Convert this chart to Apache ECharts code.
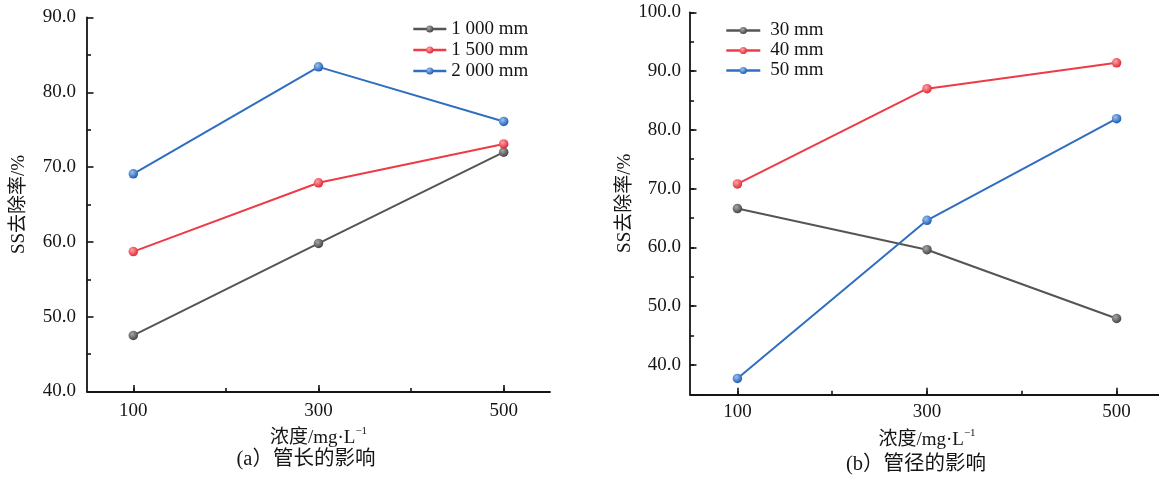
<!DOCTYPE html>
<html>
<head>
<meta charset="utf-8">
<script src="https://cdn.jsdelivr.net/npm/echarts@6/dist/echarts.min.js"></script>
<style>
html,body{margin:0;padding:0;background:#fff;}
#chart{width:1159px;height:479px;}
</style>
</head>
<body>
<div id="chart"></div>
<script>
// ---- data ----
const axisCategories = ['100', '200', '300', '400', '500'];
const xPoints = ['100', '300', '500'];

const lengthNames = ['1 000 mm', '1 500 mm', '2 000 mm'];
const len1000 = [47.5, 59.8, 72.0];
const len1500 = [58.7, 67.9, 73.1];
const len2000 = [69.1, 83.4, 76.1];

const diameterNames = ['30 mm', '40 mm', '50 mm'];
const dia30 = [66.6, 59.6, 47.9];
const dia40 = [70.8, 87.0, 91.4];
const dia50 = [37.7, 64.6, 81.9];

const yName = 'SS去除率/%';
const xNameMain = '浓度/mg·L';
const xNameSup = '−1';
const captionA = '(a）管长的影响';
const captionB = '(b）管径的影响';

// ---- styles ----
const serif = '"Liberation Serif", "Times New Roman", "Noto Sans CJK SC", serif';
const ink = '#151515';
const palette = [
  { line: '#555555', hi: '#a8a8a8', lo: '#454545' },
  { line: '#ee3b45', hi: '#ffa3a8', lo: '#e02a35' },
  { line: '#2f6ec0', hi: '#9cc2f2', lo: '#1d5db3' }
];

function ballColor(p) {
  return { type: 'radial', x: 0.38, y: 0.35, r: 0.65,
    colorStops: [{ offset: 0, color: p.hi }, { offset: 1, color: p.lo }] };
}

function makeSeries(name, vals, p, xi, yi) {
  return {
    type: 'line', name: name, xAxisIndex: xi, yAxisIndex: yi,
    data: xPoints.map((x, i) => [x, vals[i]]),
    symbol: 'circle', symbolSize: 9.5, showSymbol: true,
    lineStyle: { color: p.line, width: 2 },
    itemStyle: { color: ballColor(p), borderWidth: 0 },
    emphasis: { disabled: true },
    z: 3
  };
}

const xName = {
  name: '{a|' + xNameMain + '}{s|' + xNameSup + '}',
  nameLocation: 'middle',
  nameTextStyle: {
    rich: {
      a: { fontSize: 19, fontFamily: serif, color: ink, lineHeight: 22, verticalAlign: 'bottom' },
      s: { fontSize: 11, fontFamily: serif, color: ink, lineHeight: 22, verticalAlign: 'top' }
    }
  }
};

function xAxes(gridIndex, nameGap, labelMargin) {
  return [
    {
      type: 'category', gridIndex: gridIndex, data: axisCategories, boundaryGap: true, position: 'bottom',
      axisLine: { show: true, onZero: false, lineStyle: { color: ink, width: 1.8 } },
      axisTick: { show: true, alignWithLabel: true, inside: true, length: 3.5, interval: 0, lineStyle: { color: ink, width: 1.6 } },
      axisLabel: { show: false }, splitLine: { show: false }
    },
    Object.assign({
      type: 'category', gridIndex: gridIndex, data: axisCategories, boundaryGap: true, position: 'bottom',
      axisLine: { show: false, onZero: false },
      axisTick: { show: true, alignWithLabel: true, inside: true, length: 6.5, interval: 1, lineStyle: { color: ink, width: 1.6 } },
      axisLabel: { interval: 1, fontSize: 19, fontFamily: serif, color: ink, margin: labelMargin },
      splitLine: { show: false },
      nameGap: nameGap
    }, xName)
  ];
}

const option = {
  animation: false,
  backgroundColor: '#ffffff',
  grid: [
    { left: 87, top: 17.5, width: 463, height: 374, containLabel: false, outerBoundsMode: 'none' },
    { left: 690, top: 12.3, width: 474, height: 382, containLabel: false, outerBoundsMode: 'none' }
  ],
  xAxis: [].concat(xAxes(0, 34, 10), xAxes(1, 33, 8)),
  yAxis: [
    {
      type: 'value', gridIndex: 0, position: 'left', min: 40, max: 90, interval: 10,
      axisLine: { show: true, onZero: false, lineStyle: { color: ink, width: 1.8 } },
      axisTick: { show: true, inside: true, length: 6.5, lineStyle: { color: ink, width: 1.6 } },
      minorTick: { show: true, splitNumber: 2, length: 4, lineStyle: { color: ink, width: 1.6 } },
      axisLabel: { fontSize: 19, fontFamily: serif, color: ink, margin: 11, formatter: v => v.toFixed(1) },
      splitLine: { show: false }, minorSplitLine: { show: false },
      name: yName, nameLocation: 'middle', nameGap: 58, nameRotate: 90,
      nameTextStyle: { fontSize: 19, fontFamily: serif, color: ink }
    },
    {
      type: 'value', gridIndex: 1, position: 'left', offset: 0, min: 35, max: 100, interval: 5,
      axisLine: { show: false, onZero: false },
      axisTick: { show: true, inside: true, length: 4, lineStyle: { color: ink, width: 1.6 } },
      axisLabel: { show: false }, splitLine: { show: false }
    },
    {
      type: 'value', gridIndex: 1, position: 'left', offset: 0, min: 35, max: 100, splitNumber: 7,
      axisLine: { show: true, onZero: false, lineStyle: { color: ink, width: 1.8 } },
      axisTick: { show: true, inside: true, length: 6.5, lineStyle: { color: ink, width: 1.6 } },
      axisLabel: { fontSize: 19, fontFamily: serif, color: ink, margin: 9,
        formatter: v => (v % 10 === 0 ? v.toFixed(1) : '') },
      splitLine: { show: false },
      name: yName, nameLocation: 'middle', nameGap: 53, nameRotate: 90,
      nameTextStyle: { fontSize: 19, fontFamily: serif, color: ink }
    }
  ],
  legend: [
    {
      data: lengthNames, orient: 'vertical', left: 412, top: 19, padding: 0,
      itemWidth: 33, itemHeight: 9, itemGap: 1, selectedMode: false,
      lineStyle: { width: 2.6 },
      textStyle: { fontSize: 19, fontFamily: serif, color: ink, lineHeight: 20 }
    },
    {
      data: diameterNames, orient: 'vertical', left: 725, top: 20.5, padding: 0,
      itemWidth: 34, itemHeight: 9, itemGap: 0, selectedMode: false,
      lineStyle: { width: 2.6 },
      textStyle: { fontSize: 19, fontFamily: serif, color: ink, lineHeight: 20, padding: [0, 0, 0, 5] }
    }
  ],
  graphic: [
    { type: 'text', x: 306, y: 459.5, style: { text: captionA, fontSize: 20.5, fontFamily: serif, fill: ink, align: 'center', verticalAlign: 'middle' } },
    { type: 'text', x: 916, y: 465, style: { text: captionB, fontSize: 20.5, fontFamily: serif, fill: ink, align: 'center', verticalAlign: 'middle' } }
  ],
  series: [
    makeSeries(lengthNames[0], len1000, palette[0], 1, 0),
    makeSeries(lengthNames[1], len1500, palette[1], 1, 0),
    makeSeries(lengthNames[2], len2000, palette[2], 1, 0),
    makeSeries(diameterNames[0], dia30, palette[0], 3, 2),
    makeSeries(diameterNames[1], dia40, palette[1], 3, 2),
    makeSeries(diameterNames[2], dia50, palette[2], 3, 2)
  ]
};

const chart = echarts.init(document.getElementById('chart'), null, { renderer: 'canvas' });
chart.setOption(option);
</script>
</body>
</html>
